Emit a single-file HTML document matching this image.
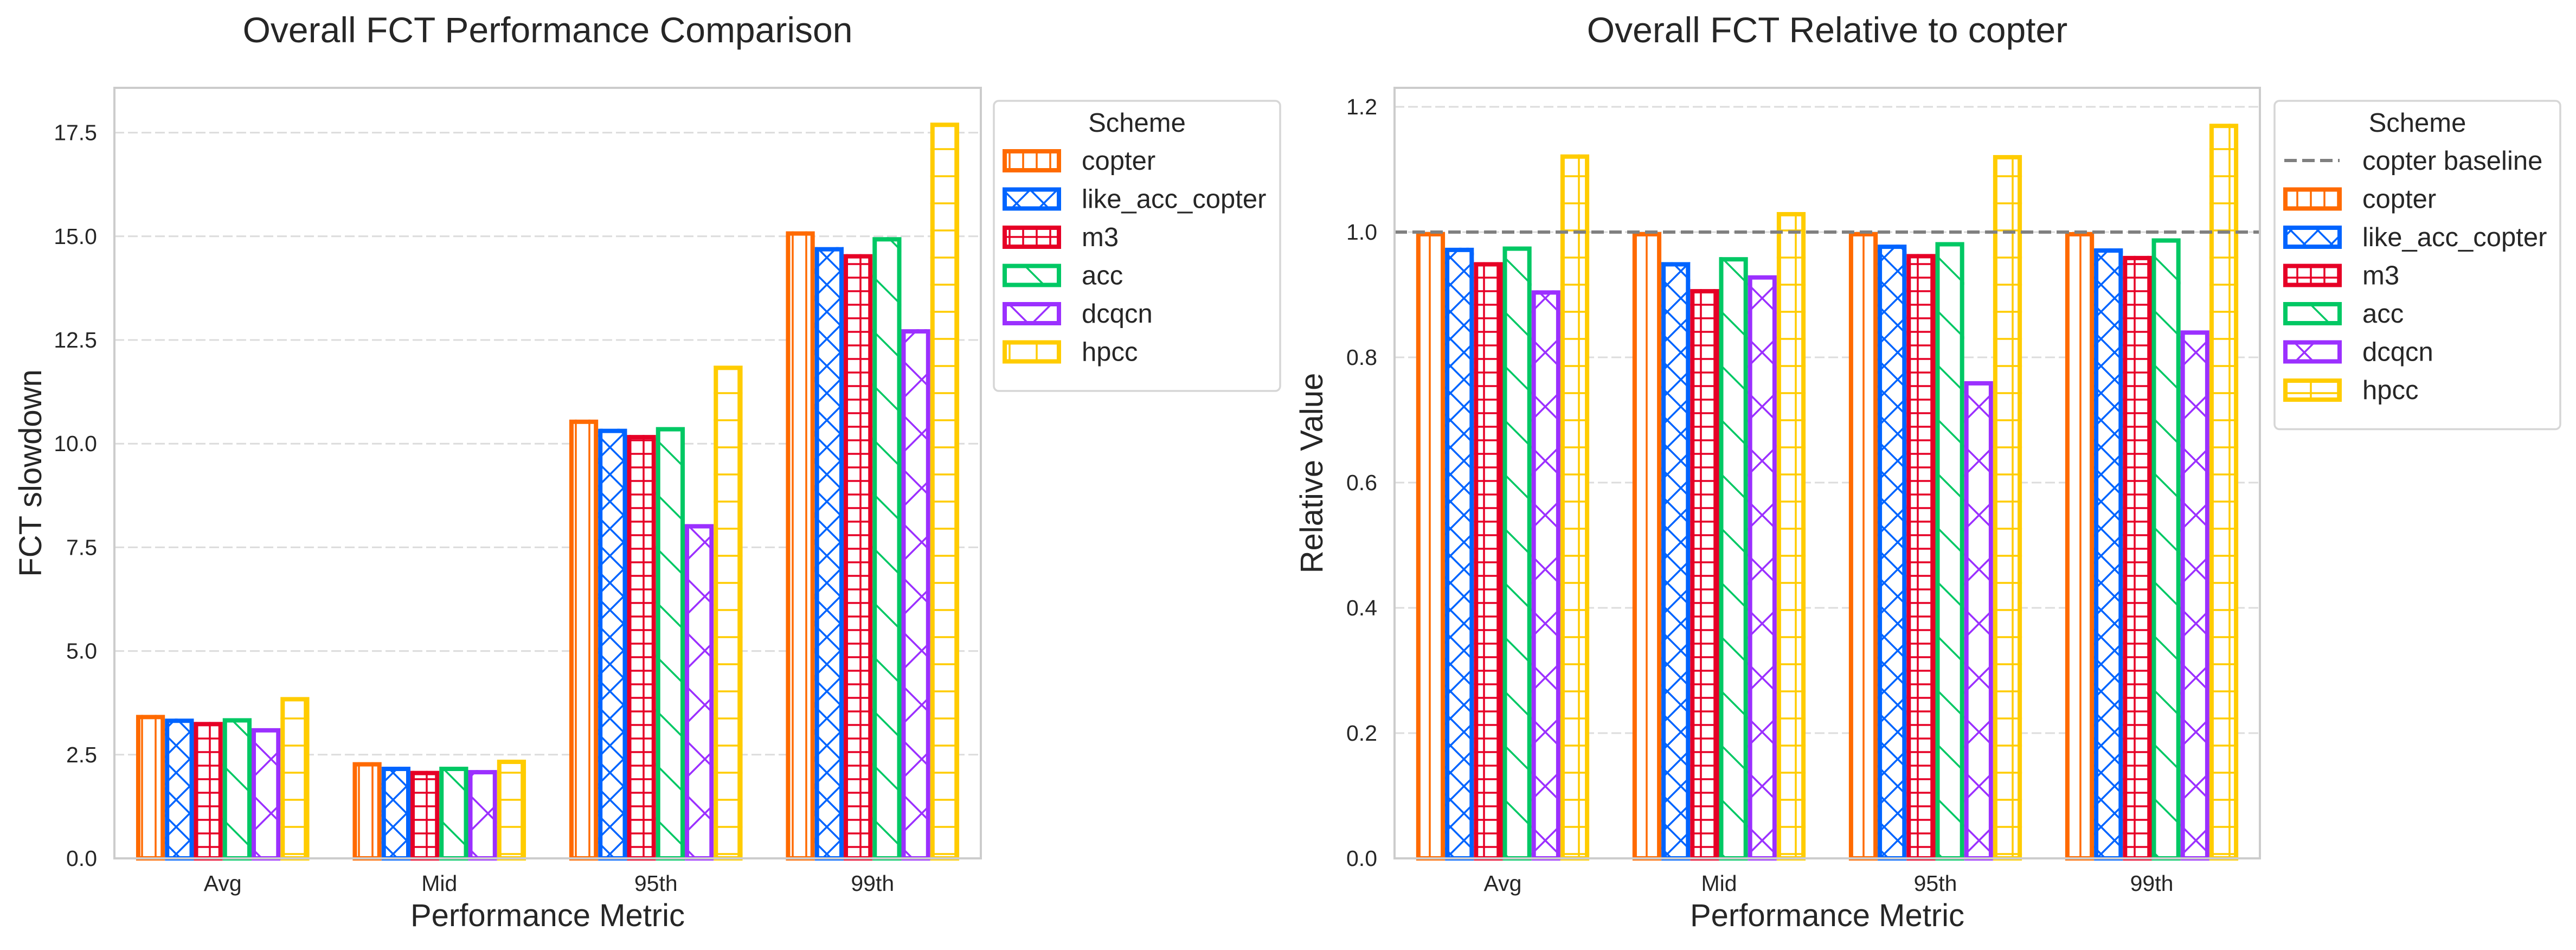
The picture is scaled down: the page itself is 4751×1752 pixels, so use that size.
<!DOCTYPE html>
<html><head><meta charset="utf-8"><style>
html,body{margin:0;padding:0;background:#fff;}
svg{display:block;font-family:"Liberation Sans",Arial,sans-serif;}
</style></head><body>
<svg id="fig" width="4751" height="1752" viewBox="0 0 4751 1752" xmlns="http://www.w3.org/2000/svg">
<defs>
 <pattern id="h-copter" patternUnits="userSpaceOnUse" width="25" height="25"><line x1="12" y1="0" x2="12" y2="25" stroke="#ff6a00" stroke-width="3.5"/></pattern>
 <pattern id="h-like" patternUnits="userSpaceOnUse" width="50" height="50"><path d="M0,0 L50,50 M50,0 L0,50" stroke="#0064ff" stroke-width="3.5" fill="none"/></pattern>
 <pattern id="h-m3" patternUnits="userSpaceOnUse" width="25" height="25"><path d="M12,0 V25 M0,12 H25" stroke="#e60026" stroke-width="3.5" fill="none"/></pattern>
 <pattern id="h-acc" patternUnits="userSpaceOnUse" width="100" height="100"><path d="M0,0 L100,100 M-50,50 L50,150 M50,-50 L150,50" stroke="#00c864" stroke-width="3.5" fill="none"/></pattern>
 <pattern id="h-dcqcn" patternUnits="userSpaceOnUse" width="100" height="100"><path d="M0,0 L100,100 M100,0 L0,100" stroke="#9b30ff" stroke-width="3.5" fill="none"/></pattern>
 <pattern id="h-hpcc" patternUnits="userSpaceOnUse" width="50" height="50"><path d="M12,0 V50 M0,25 H50" stroke="#ffcc00" stroke-width="3.5" fill="none"/></pattern>
</defs>
<g id="root"></g>
</svg>
<script>
const categories = ["Avg", "Mid", "95th", "99th"];
const schemes = ["copter", "like_acc_copter", "m3", "acc", "dcqcn", "hpcc"];
const colors = ["#ff6a00", "#0064ff", "#e60026", "#00c864", "#9b30ff", "#ffcc00"];
const hatchIds = ["h-copter", "h-like", "h-m3", "h-acc", "h-dcqcn", "h-hpcc"];
const fctCopter = [3.46, 2.32, 10.58, 15.12];
const fctLike = [3.37, 2.21, 10.36, 14.74];
const fctM3 = [3.29, 2.11, 10.21, 14.57];
const fctAcc = [3.38, 2.21, 10.40, 14.98];
const fctDcqcn = [3.14, 2.13, 8.06, 12.76];
const fctHpcc = [3.89, 2.38, 11.88, 17.74];
const relCopter = [1.0, 1.0, 1.0, 1.0];
const relLike = [0.975, 0.952, 0.980, 0.974];
const relM3 = [0.952, 0.909, 0.965, 0.962];
const relAcc = [0.977, 0.960, 0.984, 0.990];
const relDcqcn = [0.907, 0.931, 0.762, 0.843];
const relHpcc = [1.124, 1.032, 1.123, 1.173];
const leftTicks = ["0.0", "2.5", "5.0", "7.5", "10.0", "12.5", "15.0", "17.5"];
const rightTicks = ["0.0", "0.2", "0.4", "0.6", "0.8", "1.0", "1.2"];
const baselineValue = 1.0;

const NS = "http://www.w3.org/2000/svg";
const root = document.getElementById("root");
function mk(tag, attrs, parent, text) {
  const e = document.createElementNS(NS, tag);
  for (const k in attrs) e.setAttribute(k, attrs[k]);
  if (text !== undefined) e.textContent = text;
  (parent || root).appendChild(e);
  return e;
}

function drawChart(opt) {
  const g = mk("g", {});
  
  
  const L = opt.left, R = opt.right, T = 162, B = 1583;
  const yScale = v => B - (v - 0) / (opt.ymax - 0) * (B - T);
  const band = (R - L) / categories.length;
  const xCenter = i => L + (i + 0.5) * band;
  const bw = band * 0.8 / schemes.length;

  // grid
  opt.ticks.forEach(t => {
    const y = yScale(parseFloat(t));
    const gl = mk("line", {x1: L, x2: R, y1: y, y2: y, stroke: "#dcdcdc", "stroke-width": 3, "stroke-dasharray": "18 7"}, g);
    
    
    const tl = mk("text", {x: L - 32, y: y + 14, "text-anchor": "end", "font-size": 41, fill: "#262626"}, g, t);
    
    
  });

  // bars
  opt.series.forEach((vals, s) => {
    vals.forEach((v, i) => {
      const x = xCenter(i) - band * 0.4 + s * bw;
      const y = yScale(v);
      const h = B - y;
      const bg = mk("g", {}, g);
      
      
      mk("rect", {x: x, y: y, width: bw, height: h, fill: "#fff"}, bg);
      mk("rect", {x: x, y: y, width: bw, height: h, fill: "url(#" + hatchIds[s] + ")"}, bg);
      mk("rect", {x: x + 4, y: y + 4, width: bw - 8, height: Math.max(h - 4, 0), fill: "none", stroke: colors[s], "stroke-width": 8}, bg);
    });
  });

  if (opt.baseline) {
    const y = yScale(baselineValue);
    const bl = mk("line", {x1: L, x2: R, y1: y, y2: y, stroke: "#808080", "stroke-width": 6, "stroke-dasharray": "23 10"}, g);
    
    
  }

  // frame
  const fr = mk("rect", {x: L, y: T, width: R - L, height: B - T, fill: "none", stroke: "#cccccc", "stroke-width": 4}, g);
  
  

  categories.forEach((c, i) => {
    const t = mk("text", {x: xCenter(i), y: 1643, "text-anchor": "middle", "font-size": 41, fill: "#262626"}, g, c);
    
    
  });

  const xt = mk("text", {x: (L + R) / 2, y: 1708, "text-anchor": "middle", "font-size": 58, fill: "#262626"}, g, "Performance Metric");
  
  
  const yc = (T + B) / 2;
  const yt = mk("text", {x: opt.ylabelX, y: yc, "text-anchor": "middle", "font-size": 58, fill: "#262626", transform: "rotate(-90 " + opt.ylabelX + " " + yc + ")"}, g, opt.ylabel);
  
  
  const tt = mk("text", {x: (L + R) / 2, y: 78, "text-anchor": "middle", "font-size": 66, fill: "#262626"}, g, opt.title);
  
  

  // legend
  const lg = mk("g", {}, g);
  
  
  const lx = opt.legendX, ly = 186;
  const n = schemes.length + (opt.baseline ? 1 : 0);
  const lw = opt.legendW;
  const lh = 110 + n * 70.5 + 2;
  mk("rect", {x: lx, y: ly, width: lw, height: lh, rx: 9, fill: "#fff", stroke: "#d6d6d6", "stroke-width": 3.5}, lg);
  const lt = mk("text", {x: lx + lw / 2, y: ly + 57, "text-anchor": "middle", "font-size": 49, fill: "#262626"}, lg, "Scheme");
  
  
  let row = 0;
  const rowY = r => ly + 110 + r * 70.5;
  if (opt.baseline) {
    const e = mk("g", {}, lg);
    
    
    const cy = rowY(0);
    mk("line", {x1: lx + 18, x2: lx + 120, y1: cy, y2: cy, stroke: "#808080", "stroke-width": 6, "stroke-dasharray": "23 10"}, e);
    mk("text", {x: lx + 162, y: cy + 17, "font-size": 49, fill: "#262626"}, e, "copter baseline");
    row = 1;
  }
  schemes.forEach((s, k) => {
    const cy = rowY(row + k);
    const e = mk("g", {}, lg);
    
    
    mk("rect", {x: lx + 16, y: cy - 21, width: 108, height: 43, fill: "url(#" + hatchIds[k] + ")"}, e);
    mk("rect", {x: lx + 20, y: cy - 17, width: 100, height: 35, fill: "none", stroke: colors[k], "stroke-width": 8}, e);
    mk("text", {x: lx + 162, y: cy + 17, "font-size": 49, fill: "#262626"}, e, s);
  });
}

drawChart({name: "fct-slowdown-chart", left: 211, right: 1809, ymax: 18.58,
  ticks: leftTicks, series: [fctCopter, fctLike, fctM3, fctAcc, fctDcqcn, fctHpcc],
  ylabel: "FCT slowdown", ylabelX: 76, title: "Overall FCT Performance Comparison",
  legendX: 1833, legendW: 528, baseline: false});
drawChart({name: "relative-fct-chart", left: 2572, right: 4168, ymax: 1.2303,
  ticks: rightTicks, series: [relCopter, relLike, relM3, relAcc, relDcqcn, relHpcc],
  ylabel: "Relative Value", ylabelX: 2439, title: "Overall FCT Relative to copter",
  legendX: 4195, legendW: 527, baseline: true});
</script>
</body></html>
